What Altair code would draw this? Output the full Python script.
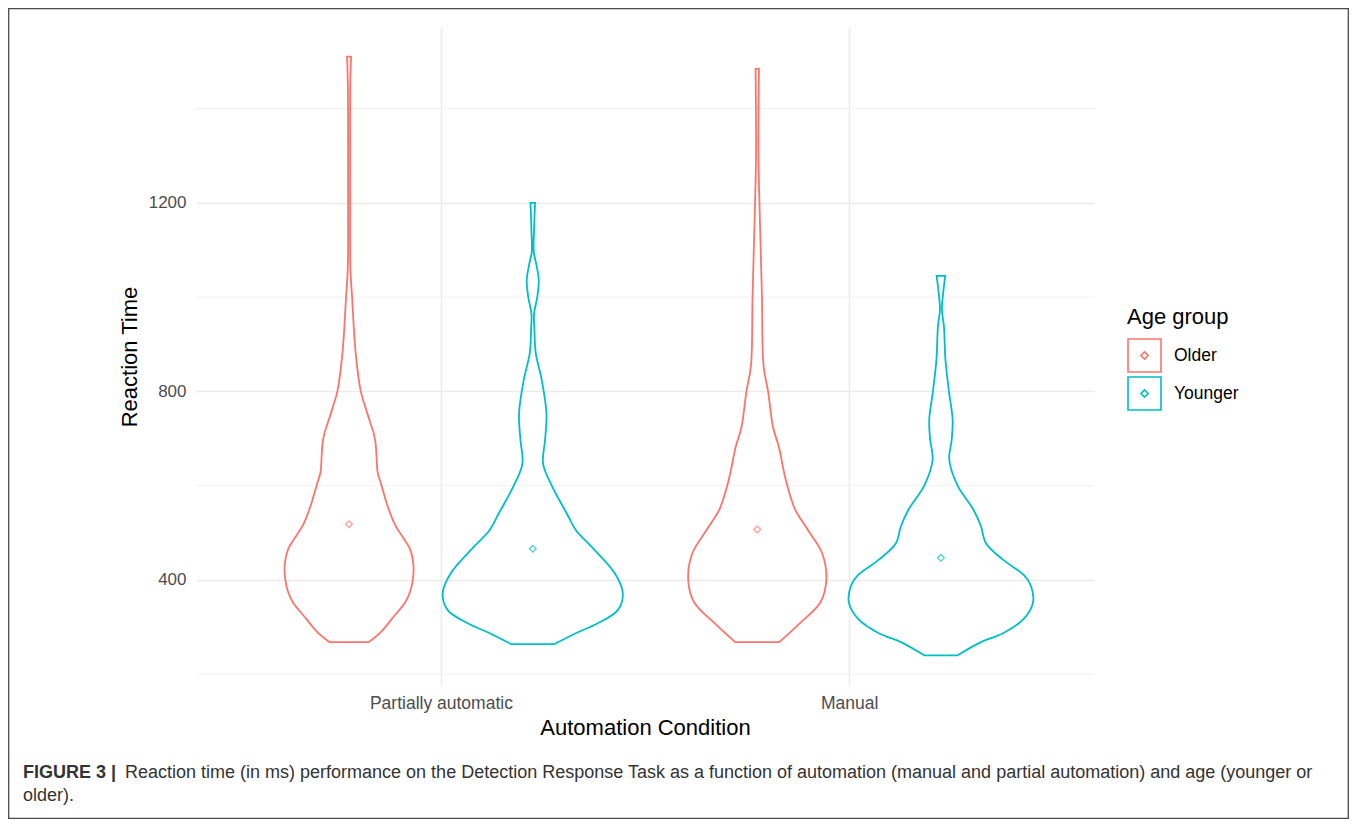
import json
import altair as alt
import pandas as pd

# ---------------- data ----------------
conditions = ["Partially automatic", "Manual"]
groups = ["Older", "Younger"]
colors = ["#F8766D", "#00BFC4"]

# violin outlines: reaction time (ms) and half-width (px of the original figure)
op_rt = [268, 290, 318, 352, 375, 400, 425, 445, 465, 490, 518, 560, 600, 629, 660, 690, 712, 735, 765, 800, 879, 1000, 1061, 1200, 1300, 1450, 1510]
op_hw = [19.5, 32, 43, 56, 61, 63.7, 64.5, 63.5, 61, 54, 45.7, 38, 32.5, 28.5, 27.5, 26.5, 24.5, 21, 16.5, 11.7, 6.7, 3, 1.3, 1, 1, 1.2, 2]

yp_rt = [264, 287, 308, 336, 372, 414, 470, 506, 541, 600, 647, 697, 753, 824, 881, 930, 965, 1000, 1036, 1070, 1096, 1142, 1200]
yp_hw = [21.7, 43, 65, 85, 90, 82, 59, 43, 34, 19, 10.3, 12.3, 13.7, 9, 3, 1.7, 1.3, 4.5, 6, 3.5, 1, 1.3, 2.3]

om_rt = [268, 309, 352, 400, 456, 508, 551, 600, 629, 681, 724, 800, 854, 1000, 1113, 1200, 1300, 1484]
om_hw = [22, 43, 63, 69, 65, 50, 37.5, 30, 26.7, 21.7, 15.8, 10.8, 6.3, 4.7, 3.3, 2.2, 1.2, 1.7]

ym_rt = [240, 266, 288, 318, 352, 387, 410, 443, 478, 514, 549, 600, 655, 698, 740, 800, 867, 938, 973, 1008, 1045]
ym_hw = [16.7, 38, 63, 83, 92, 90, 83, 62, 45, 40, 32.5, 16.7, 8.3, 10.8, 11.7, 8, 4.5, 3, 1, 2.2, 4.3]

mean_rt = [518, 466, 507, 447]          # OP, YP, OM, YM
y_major = [400, 800, 1200]
y_minor = [200, 600, 1000, 1400]

caption_bold = "FIGURE 3 |"
caption_1 = ("Reaction time (in ms) performance on the Detection Response Task as a function of "
             "automation (manual and partial automation) and age (younger or")
caption_2 = "older)."

# ---------------- build tables ----------------
PX_PER_UNIT = 408.0
DODGE = 0.225
violins = [
    (0, 0, op_rt, op_hw),
    (0, 1, yp_rt, yp_hw),
    (1, 0, om_rt, om_hw),
    (1, 1, ym_rt, ym_hw),
]
rows, mrows = [], []
for k, (ci, gi, rts, hws) in enumerate(violins):
    center = ci + 1 + (DODGE if gi == 1 else -DODGE)
    for rt, hw in zip(rts, hws):
        rows.append({"violin": k, "group": groups[gi], "rt": rt,
                     "xl": center - hw / PX_PER_UNIT, "xr": center + hw / PX_PER_UNIT})
    mrows.append({"group": groups[gi], "mx": center, "mean": mean_rt[k]})
vdf = pd.DataFrame(rows)
mdf = pd.DataFrame(mrows)
minor_df = pd.DataFrame({"v": y_minor})

FONT = "Liberation Sans"
W, H = 898, 659
PAD_L, PAD_T, CANVAS_W, CANVAS_H = 188, 19, 1341, 811

xscale = alt.Scale(domain=[0.4, 2.6], nice=False, zero=False)
yscale = alt.Scale(domain=[175, 1573], nice=False, zero=False)

label_expr = json.dumps(conditions) + "[datum.value - 1]"

xaxis = alt.Axis(values=[1, 2], labelExpr=label_expr, title="Automation Condition",
                 grid=True, gridColor="#EBEBEB", gridWidth=1.6, domain=False, ticks=False,
                 labelFontSize=17.5, labelColor="#4D4D4D", labelPadding=8, labelFont=FONT,
                 titleFont=FONT, titleFontSize=22, titleFontWeight="normal", titleColor="#000000",
                 titleBaseline="alphabetic", titleY=48)
yaxis = alt.Axis(values=y_major, format="d", title="Reaction Time", grid=True, gridColor="#EBEBEB",
                 gridWidth=1.6, domain=False, ticks=False, labelFontSize=17, labelColor="#4D4D4D",
                 labelPadding=10, labelFont=FONT, titleFont=FONT, titleFontSize=22,
                 titleFontWeight="normal", titleColor="#000000", titleAngle=270,
                 titleAlign="center", titleBaseline="alphabetic", titleX=-59.3, titleY=329.5)

legend = alt.Legend(title="Age group", orient="none", legendX=931, legendY=280,
                    symbolType="M-1,-1L1,-1L1,1L-1,1Z M0,-0.22L0.22,0L0,0.22L-0.22,0Z",
                    symbolSize=1089, symbolStrokeWidth=1.6, symbolFillColor="transparent",
                    symbolOpacity=1, labelFontSize=17.5, labelFont=FONT, labelColor="#000000",
                    labelOffset=12, titleFont=FONT, titleFontSize=22, titleFontWeight="normal",
                    titleColor="#000000", titlePadding=9, rowPadding=-18, padding=0)

stroke_enc = alt.Stroke("group:N", scale=alt.Scale(domain=groups, range=colors), legend=legend)

minor = alt.Chart(minor_df).mark_rule(color="#F1F1F1", strokeWidth=1).encode(
    y=alt.Y("v:Q", scale=yscale, axis=yaxis))

violin = alt.Chart(vdf).mark_area(orient="horizontal", interpolate="catmull-rom",
                                  fill="transparent", strokeWidth=1.8).encode(
    y=alt.Y("rt:Q", scale=yscale, axis=yaxis),
    x=alt.X("xl:Q", scale=xscale, axis=xaxis, stack=None),
    x2="xr:Q",
    stroke=stroke_enc,
    detail="violin:N",
)

points = alt.Chart(mdf).mark_point(shape="diamond", filled=False, size=45, strokeWidth=1.3).encode(
    x=alt.X("mx:Q", scale=xscale, axis=xaxis),
    y=alt.Y("mean:Q", scale=yscale, axis=yaxis),
    stroke=stroke_enc,
)

one = alt.Data(values=[{}])
frame = alt.Chart(one).mark_rect(fill="transparent", stroke="#4a4a4a", strokeWidth=1.3).encode(
    x=alt.value(-PAD_L + 0.7), x2=alt.value(CANVAS_W - PAD_L - 0.7),
    y=alt.value(-PAD_T + 0.7), y2=alt.value(CANVAS_H - PAD_T - 0.7))

cap_style = dict(align="left", baseline="alphabetic", font=FONT, fontSize=18, color="#333333")
cap_b = alt.Chart(one).mark_text(fontWeight="bold", **cap_style).encode(
    x=alt.value(-173), y=alt.value(751), text=alt.value(caption_bold))
cap_1 = alt.Chart(one).mark_text(**cap_style).encode(
    x=alt.value(-71), y=alt.value(751), text=alt.value(caption_1))
cap_2 = alt.Chart(one).mark_text(**cap_style).encode(
    x=alt.value(-173), y=alt.value(774), text=alt.value(caption_2))

chart = alt.layer(minor, violin, points, frame, cap_b, cap_1, cap_2).properties(
    width=W, height=H,
    autosize=alt.AutoSizeParams(type="none"),
    padding={"left": PAD_L, "top": PAD_T, "right": CANVAS_W - PAD_L - W, "bottom": CANVAS_H - PAD_T - H},
    background="#ffffff",
).configure_view(stroke=None)

chart.save("out.html", embed_options={"renderer": "svg", "actions": False})
